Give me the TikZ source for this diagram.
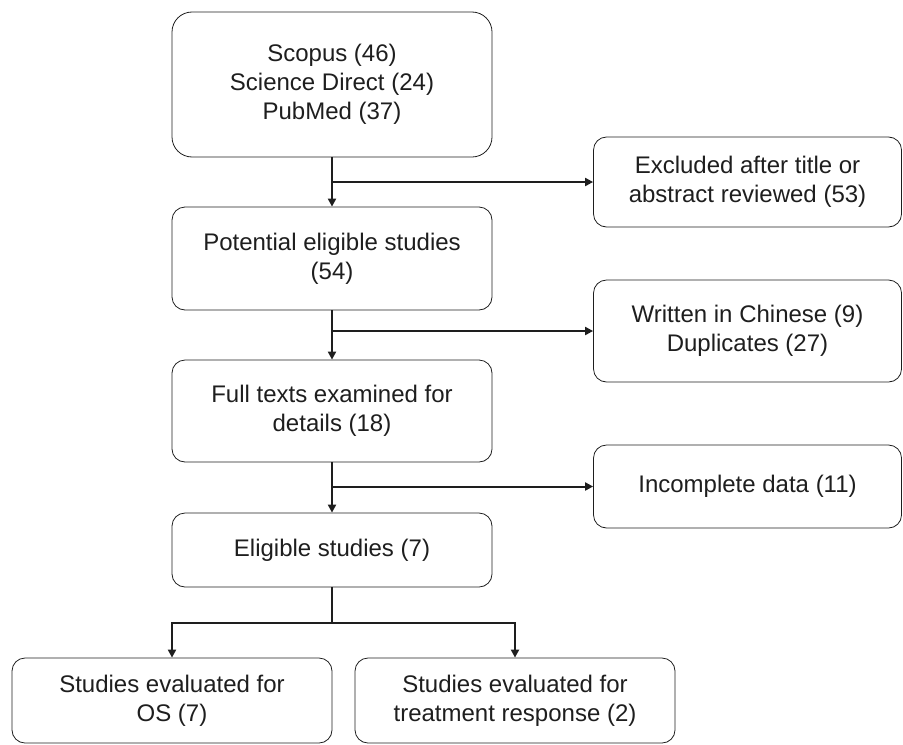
\documentclass[tikz,border=0pt]{standalone}
\usepackage{fontspec}
\setmainfont{Liberation Sans}
\usetikzlibrary{arrows.meta,positioning}
\definecolor{ink}{HTML}{1E1E1E}
\tikzset{>={Triangle[length=4pt,width=4pt]},line width=1.1pt,
  every node/.style={font=\fontsize{12}{14.5}\selectfont,text=ink},
  stagebox/.style={draw=ink,rounded corners=6.5pt,align=center,minimum width=160pt,inner sep=2pt},
  sidebox/.style={draw=ink,rounded corners=6.5pt,align=center,minimum width=154pt,inner sep=2pt},
  flow/.style={->,draw=ink,line width=1pt},
  link/.style={draw=ink,line width=1pt}}

\begin{document}
\begin{tikzpicture}[x=0.5pt,y=-0.5pt]
\path[use as bounding box] (0,0) rectangle (903,744);
% main column
\node[stagebox,minimum height=72.5pt,rounded corners=10pt] (src) at (332,84.5) {Scopus (46)\\Science Direct (24)\\PubMed (37)};
\node[stagebox,minimum height=51.5pt] (pot) at (332,258.5) {Potential eligible studies\\(54)};
\node[stagebox,minimum height=51pt] (full) at (332,411) {Full texts examined for\\details (18)};
\node[stagebox,minimum height=37pt] (elig) at (332,550) {Eligible studies (7)};
% exclusions
\node[sidebox,minimum height=45pt] (excl) at (747.5,182) {Excluded after title or\\abstract reviewed (53)};
\node[sidebox,minimum height=51pt] (dup) at (747.5,331) {Written in Chinese (9)\\Duplicates (27)};
\node[sidebox,minimum height=41.5pt] (inc) at (747.5,486.5) {Incomplete data (11)};
% outcomes
\node[stagebox,minimum height=42.5pt] (os) at (172,700.5) {Studies evaluated for\\OS (7)};
\node[stagebox,minimum height=42.5pt] (resp) at (515,700.5) {Studies evaluated for\\treatment response (2)};
\coordinate (split) at (332,623);
\draw[flow] (src) -- (pot);
\draw[flow] (src.south |- excl.west) -- (excl.west);
\draw[flow] (pot) -- (full);
\draw[flow] (pot.south |- dup.west) -- (dup.west);
\draw[flow] (full) -- (elig);
\draw[flow] (full.south |- inc.west) -- (inc.west);
\draw[link] (elig) -- (split);
\draw[flow] (split) -| (os);
\draw[flow] (split) -| (resp);
\end{tikzpicture}
\end{document}
